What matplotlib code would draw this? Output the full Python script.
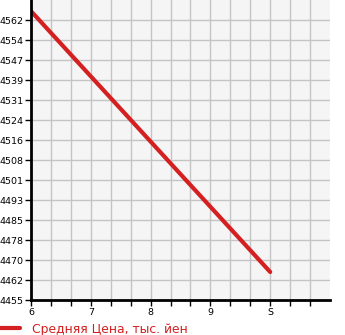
import matplotlib
matplotlib.use("Agg")
import matplotlib.pyplot as plt
from matplotlib.ticker import FixedLocator

months = [6, 10]
prices = [4565.4, 4465.7]
x_tick_values = [6, 7, 8, 9, 10]
x_tick_labels = ['6', '7', '8', '9', 'S']
y_tick_labels = ['4455', '4462', '4470', '4478', '4485', '4493', '4501', '4508',
                 '4516', '4524', '4531', '4539', '4547', '4554', '4562']
series_name = 'Средняя Цена, тыс. йен'

fig = plt.figure(figsize=(3.45, 3.35), dpi=100)
ax = fig.add_axes([31/345, 35/335, 299/345, 300/335])
ax.set_facecolor('#f5f5f5')

ymin = 4455.0
ystep = (4562 - 4455) / 14
yticks = [ymin + i * ystep for i in range(len(y_tick_labels))]
ax.set_ylim(ymin, ymin + 15 * ystep)
ax.set_xlim(6, 11)

ax.set_yticks(yticks)
ax.set_yticklabels(y_tick_labels)
ax.set_xticks(x_tick_values)
ax.set_xticklabels(x_tick_labels)
minor = [6 + i / 3 for i in range(16) if i % 3 != 0]
ax.xaxis.set_minor_locator(FixedLocator(minor))

ax.grid(True, which='both', color='#c4c4c4', linewidth=1.0)
ax.set_axisbelow(True)
for s in ['top', 'right']:
    ax.spines[s].set_visible(False)
for s in ['left', 'bottom']:
    ax.spines[s].set_linewidth(2)
    ax.spines[s].set_color('black')
ax.tick_params(axis='both', which='both', direction='out', length=4, width=1,
               labelsize=6.8, pad=1.5, colors='black')
ax.tick_params(axis='x', pad=2)

line, = ax.plot(months, prices, color='#d42020', linewidth=3, solid_capstyle='round', label=series_name)

fig.legend(handles=[line], loc='lower left', bbox_to_anchor=(-0.035, -0.035), frameon=False,
           fontsize=8.9, labelcolor='#d42020', handlelength=1.7, handletextpad=0.95)

fig.savefig('out.png', dpi=100)
